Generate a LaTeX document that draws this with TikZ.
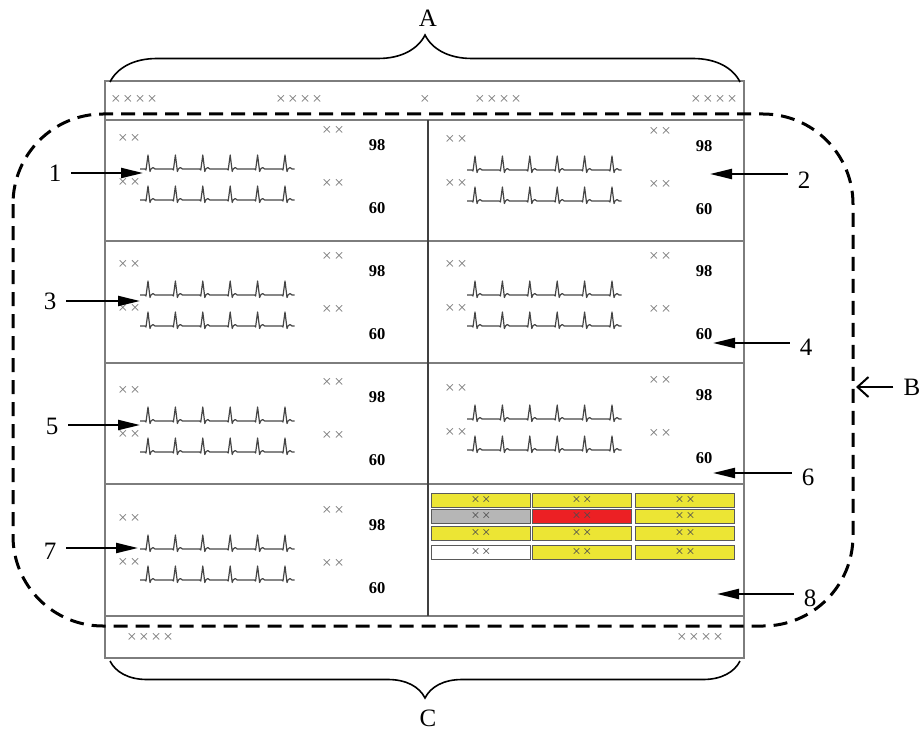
\documentclass[tikz,border=0pt]{standalone}
\usepackage{fontspec}
\setmainfont{Liberation Serif}
\usetikzlibrary{arrows.meta,decorations.pathreplacing}

\definecolor{alyellow}{RGB}{236,229,52}
\definecolor{algray}{RGB}{182,182,182}
\definecolor{alred}{RGB}{236,32,36}
\definecolor{scrline}{RGB}{125,125,125}
\definecolor{crossgray}{RGB}{120,120,120}
\definecolor{tracegray}{RGB}{70,70,70}

\newcommand{\xx}{×\kern2.5pt×}
\newcommand{\xxxx}{×\kern2.5pt×\kern2.5pt×\kern2.5pt×}

% one strip of six beats
\newcommand{\ecg}[2]{%
\draw[trace] (#1,#2) foreach \k in {1,...,5}{ -- ++(5,0) -- ++(1,1) -- ++(2,-15) -- ++(2,16.5) -- ++(1,-2.5) -- ++(2,-1.5) -- ++(2,1.5) -- ++(12.4,0)}
 -- ++(5,0) -- ++(1,1) -- ++(2,-15) -- ++(2,16.5) -- ++(1,-2.5) -- ++(2,-1.5) -- ++(2,1.5) -- ++(2.5,0);}

% one bed panel
\newcommand{\panel}[3]{%
\node[xs] (#3a) at (#1+24,#2+25) {\xx};
\node[xs] (#3b) at (#1+24,#2+69) {\xx};
\node[xs] (#3c) at (#1+228,#2+17) {\xx};
\node[xs] (#3d) at (#1+228,#2+70) {\xx};
\node[val] (#3hi) at (#1+272,#2+31) {98};
\node[val] (#3lo) at (#1+272,#2+94) {60};
\ecg{#1+35}{#2+55}
\ecg{#1+35}{#2+86}}

\begin{document}
\begin{tikzpicture}[
x=1pt,
y=-1pt,
scr/.style={draw=scrline, line width=1.1pt},
trace/.style={draw=tracegray, line width=1.2pt, line join=round},
xs/.style={text=crossgray, font=\fontsize{17}{17}\selectfont, inner sep=0pt},
val/.style={font=\fontsize{16.5}{16.5}\selectfont\bfseries, inner sep=0pt},
lbl/.style={font=\fontsize{25}{25}\selectfont, inner sep=10pt},
pointer/.style={line width=2.2pt, -{Triangle[length=22pt,width=10pt]}},
alarm/.style={draw=black!65, line width=0.9pt, minimum width=99pt, minimum height=14pt, inner sep=0pt, text=black!70, font=\fontsize{15}{12}\selectfont},
zone/.style={line width=3pt, dash pattern=on 14pt off 8pt, rounded corners=90pt},
curly/.style={line width=1.6pt, decorate, decoration={brace, amplitude=#1}}
]
\useasboundingbox (0,0) rectangle (923,733);

% screen
\draw[scr] (105,81) rectangle (744,658);
\draw[scr] (105,120) -- (744,120);
\draw[scr] (105,241) -- (744,241);
\draw[scr] (105,363) -- (744,363);
\draw[scr] (105,484) -- (744,484);
\draw[scr] (105,616) -- (744,616);
\draw[scr, draw=black!75] (428,120) -- (428,616);

% top and bottom bars
\node[xs] (top1) at (134,100) {\xxxx};
\node[xs] (top2) at (299,100) {\xxxx};
\node[xs] (top3) at (425,100) {×};
\node[xs] (top4) at (498,100) {\xxxx};
\node[xs] (top5) at (714,100) {\xxxx};
\node[xs] (bot1) at (150,638) {\xxxx};
\node[xs] (bot2) at (700,638) {\xxxx};

% bed panels
\panel{105}{114}{p1}
\panel{432}{115}{p2}
\panel{105}{240}{p3}
\panel{432}{240}{p4}
\panel{105}{366}{p5}
\panel{432}{364}{p6}
\panel{105}{494}{p7}

% alarm list
\foreach \y/\fa/\fb/\fc [count=\r] in {500/alyellow/alyellow/alyellow, 516/algray/alred/alyellow, 533/alyellow/alyellow/alyellow, 552/white/alyellow/alyellow}{
\node[alarm, fill=\fa] (al\r a) at (481,\y) {\xx};
\node[alarm, fill=\fb] (al\r b) at (582,\y) {\xx};
\node[alarm, fill=\fc] (al\r c) at (685,\y) {\xx};
}

% region B
\draw[zone] (13,114) rectangle (853,626);

% braces
\draw[curly=47pt] (110,82) -- (740,82);
\draw[curly=37pt] (740,661) -- (110,661);
\node[lbl] (lA) at (428,18) {A};
\node[lbl] (lC) at (428,718) {C};
\node[lbl] (lB) at (912,387) {B};
\coordinate (tB) at (856,387);
\draw[line width=2pt, -{Straight Barb[length=11pt,width=20pt]}] (lB.west |- tB) -- (tB);

% numbered pointers
\node[lbl] (l1) at (55,173) {1};
\node[lbl] (l3) at (50,301) {3};
\node[lbl] (l5) at (52,426) {5};
\node[lbl] (l7) at (50,551) {7};
\node[lbl] (l2) at (804,180) {2};
\node[lbl] (l4) at (806,347) {4};
\node[lbl] (l6) at (808,477) {6};
\node[lbl] (l8) at (810,598) {8};
\coordinate (t1) at (143,173);
\coordinate (t3) at (140,301);
\coordinate (t5) at (140,425);
\coordinate (t7) at (138,548);
\coordinate (t2) at (710,174);
\coordinate (t4) at (713,343);
\coordinate (t6) at (713,473);
\coordinate (t8) at (717,594);
\foreach \n in {1,3,5,7}
\draw[pointer] (l\n.east |- t\n) -- (t\n);
\foreach \n in {2,4,6,8}
\draw[pointer] (l\n.west |- t\n) -- (t\n);

\end{tikzpicture}
\end{document}
